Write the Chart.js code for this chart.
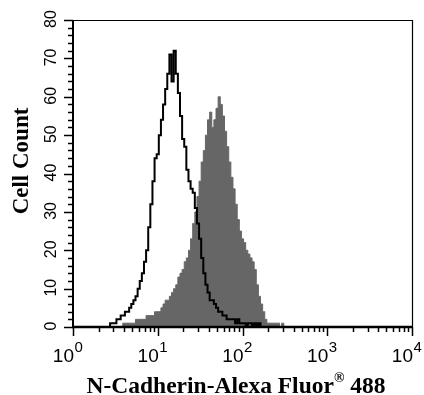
<!DOCTYPE html>
<html><head><meta charset="utf-8">
<script src="https://cdn.jsdelivr.net/npm/chart.js@4"></script>
<style>html,body{margin:0;padding:0;background:#fff;}</style>
</head><body>
<canvas id="c" width="424" height="395"></canvas>
<script>
// Histogram bins on a log10 scale (bin centre = binStartLog + i * binWidthLog)
const binStartLog = 0.40;
const binWidthLog = 0.025;
// Open (isotype / unstained) histogram – black outline
const controlCounts = [0,0,1,1,1,2,2,3,3,4,4,5,6,7,8,10,12,14,17,20,26,32,38,44,45,50,54,58,62,66,71,64,72,66,61,55,49,47,41,38,36,35,31,27,23,18,14,11,9,7,7,6,5,4,4,3,3,2,2,2,2,1,2,1,1,1,0,1,1,0,1,0,1,0,0,0,0,0,0,0,0,0,0,0,0,0,0,0,0];
// Filled (N-Cadherin stained) histogram – grey
const stainedCounts = [0,0,0,0,0,0,0,0,1,1,1,1,1,1,2,2,2,2,2,3,3,3,3,4,4,4,5,6,7,7,8,9,10,11,13,14,15,17,18,20,23,27,30,34,38,43,46,50,54,56,52,54,57,60,58,55,51,47,43,39,36,32,28,25,23,22,20,19,18,17,15,11,8,6,4,2,1,1,1,1,1,1,0,1,0,0,0,0,0];
const decadeExponents = ['0','1','2','3','4'];
const yTickValues = [0,10,20,30,40,50,60,70,80];
const yAxisTitle = 'Cell Count';
const xAxisTitleMain = 'N-Cadherin-Alexa Fluor';
const xAxisTitleSup = '®';
const xAxisTitleEnd = ' 488';

const toPoints = arr => arr.map((c, i) => ({x: binStartLog + i * binWidthLog, y: c}));

const axisPlugin = {
  id: 'flowAxes',
  afterDatasetsDraw(chart) {
    const {ctx, chartArea: a, scales: {x, y}} = chart;
    ctx.save();
    ctx.strokeStyle = '#000';
    ctx.fillStyle = '#000';
    // frame top/right
    ctx.lineWidth = 1.2;
    ctx.beginPath();
    ctx.moveTo(a.left, a.top + 0.5); ctx.lineTo(a.right + 0.5, a.top + 0.5); ctx.lineTo(a.right + 0.5, a.bottom);
    ctx.stroke();
    // left & bottom axes
    ctx.lineWidth = 2;
    ctx.beginPath();
    ctx.moveTo(a.left, a.top); ctx.lineTo(a.left, a.bottom + 1);
    ctx.stroke();
    ctx.lineWidth = 2.5;
    ctx.beginPath();
    ctx.moveTo(a.left - 1, a.bottom); ctx.lineTo(a.right + 1, a.bottom);
    ctx.stroke();
    // y ticks
    ctx.lineWidth = 1.5;
    for (let v = 0; v <= 80; v += 2) {
      const py = Math.round(y.getPixelForValue(v)) + 0.5;
      const len = (v % 10 === 0) ? 9 : 5;
      ctx.beginPath(); ctx.moveTo(a.left - len, py); ctx.lineTo(a.left, py); ctx.stroke();
    }
    // x ticks
    for (let d = 0; d < 4; d++) {
      for (let m = 1; m <= 9; m++) {
        const px = Math.round(x.getPixelForValue(d + Math.log10(m))) + 0.5;
        const len = (m === 1) ? 9 : 5;
        ctx.beginPath(); ctx.moveTo(px, a.bottom); ctx.lineTo(px, a.bottom + len); ctx.stroke();
      }
    }
    const px4 = Math.round(x.getPixelForValue(4)) + 0.5;
    ctx.beginPath(); ctx.moveTo(px4, a.bottom); ctx.lineTo(px4, a.bottom + 9); ctx.stroke();
    // y tick labels (rotated)
    ctx.font = '16px "Liberation Sans", Arial, sans-serif';
    ctx.textAlign = 'center';
    ctx.textBaseline = 'alphabetic';
    yTickValues.forEach(v => {
      const py = y.getPixelForValue(v);
      ctx.save();
      ctx.translate(56, py - 1);
      ctx.rotate(-Math.PI / 2);
      ctx.fillText(String(v), 0, 0);
      ctx.restore();
    });
    // x tick labels: 10 with superscript exponent
    decadeExponents.forEach((e, i) => {
      const px = x.getPixelForValue(i);
      ctx.font = '19px "Liberation Sans", Arial, sans-serif';
      ctx.textAlign = 'right';
      ctx.fillText('10', px + 1, 362);
      ctx.font = '15px "Liberation Sans", Arial, sans-serif';
      ctx.textAlign = 'left';
      ctx.fillText(e, px + 1.5, 352);
    });
    // y title
    ctx.font = 'bold 23px "Liberation Serif", "Times New Roman", serif';
    ctx.save();
    ctx.translate(28, 161);
    ctx.rotate(-Math.PI / 2);
    ctx.textAlign = 'center';
    ctx.fillText(yAxisTitle, 0, 0);
    ctx.restore();
    // x title with superscript ®
    const fMain = 'bold 23.5px "Liberation Serif", "Times New Roman", serif';
    const fSup = 'bold 14px "Liberation Serif", "Times New Roman", serif';
    ctx.font = fMain;
    const w1 = ctx.measureText(xAxisTitleMain).width;
    const w3 = ctx.measureText(xAxisTitleEnd).width;
    ctx.font = fSup;
    const w2 = ctx.measureText(xAxisTitleSup).width;
    const total = w1 + w2 + w3;
    let sx = 236 - total / 2;
    ctx.textAlign = 'left';
    ctx.font = fMain; ctx.fillText(xAxisTitleMain, sx, 393); sx += w1;
    ctx.font = fSup; ctx.fillText(xAxisTitleSup, sx, 382); sx += w2;
    ctx.font = fMain; ctx.fillText(xAxisTitleEnd, sx, 393);
    ctx.restore();
  }
};

new Chart(document.getElementById('c'), {
  type: 'line',
  data: {
    datasets: [
      {label: 'Control', data: toPoints(controlCounts), stepped: 'middle', borderColor: '#000', borderWidth: 2, fill: false, order: 0, pointRadius: 0},
      {label: 'N-Cadherin', data: toPoints(stainedCounts), stepped: 'middle', borderColor: '#666666', backgroundColor: '#666666', borderWidth: 1, fill: 'origin', order: 1, pointRadius: 0}
    ]
  },
  options: {
    responsive: false,
    animation: false,
    devicePixelRatio: 1,
    layout: {padding: {top: 20, right: 12, left: 0, bottom: 0}},
    plugins: {legend: {display: false}, tooltip: {enabled: false}},
    scales: {
      x: {type: 'linear', min: 0, max: 4, ticks: {display: false}, grid: {display: false}, border: {display: false}, afterFit(s) { s.height = 68; }},
      y: {type: 'linear', min: 0, max: 80, ticks: {display: false}, grid: {display: false}, border: {display: false}, afterFit(s) { s.width = 73; }}
    }
  },
  plugins: [axisPlugin]
});
</script>
</body></html>
